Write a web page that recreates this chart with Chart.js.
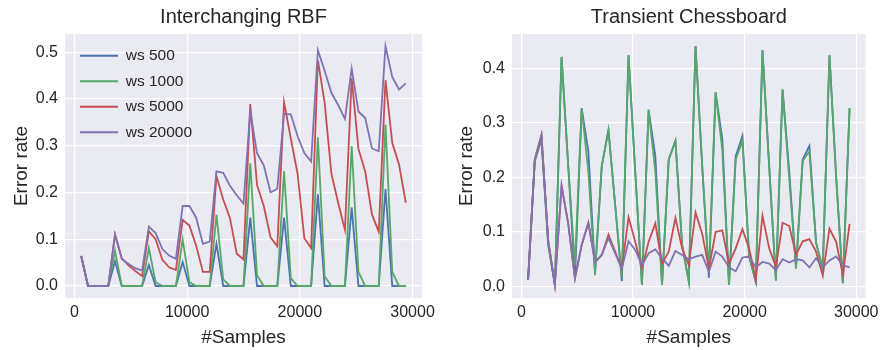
<!DOCTYPE html>
<html>
<head>
<meta charset="utf-8">
<script src="https://cdn.jsdelivr.net/npm/chart.js@4"></script>
<style>
  body { margin: 0; background: #fff; }
  .box { position: absolute; top: 0; width: 442px; height: 350px; }
</style>
</head>
<body>
<div class="box" style="left:0"><canvas id="rbf" width="442" height="350"></canvas></div>
<div class="box" style="left:442px"><canvas id="chess" width="442" height="350"></canvas></div>
<script>
// x positions (number of samples seen)
const samples = [600, 1200, 1800, 2400, 3000, 3600, 4200, 4800, 5400, 6000,
  6600, 7200, 7800, 8400, 9000, 9600, 10200, 10800, 11400, 12000,
  12600, 13200, 13800, 14400, 15000, 15600, 16200, 16800, 17400, 18000,
  18600, 19200, 19800, 20400, 21000, 21600, 22200, 22800, 23400, 24000,
  24600, 25200, 25800, 26400, 27000, 27600, 28200, 28800, 29400];

const seriesNames = ['ws 500', 'ws 1000', 'ws 5000', 'ws 20000'];
const colors = ['#4C72B0', '#55A868', '#C44E52', '#8172B2'];

// Interchanging RBF
const rbf500 = [0.064, 0, 0, 0, 0, 0.053, 0, 0, 0, 0,
  0.045, 0, 0, 0, 0, 0.051, 0, 0, 0, 0,
  0.090, 0, 0, 0, 0, 0.146, 0, 0, 0, 0,
  0.146, 0, 0, 0, 0, 0.196, 0, 0, 0, 0,
  0.168, 0, 0, 0, 0, 0.207, 0, 0, 0];
const rbf1000 = [0.064, 0, 0, 0, 0, 0.075, 0, 0, 0, 0,
  0.081, 0.008, 0, 0, 0, 0.099, 0.008, 0, 0, 0,
  0.152, 0.014, 0, 0, 0, 0.262, 0.023, 0, 0, 0,
  0.245, 0.017, 0, 0, 0, 0.318, 0.021, 0, 0, 0,
  0.299, 0.030, 0, 0, 0, 0.345, 0.030, 0, 0];
const rbf5000 = [0.064, 0, 0, 0, 0, 0.110, 0.059, 0.044, 0.032, 0.021,
  0.117, 0.100, 0.056, 0.040, 0.034, 0.141, 0.129, 0.086, 0.030, 0.030,
  0.235, 0.185, 0.145, 0.069, 0.057, 0.389, 0.216, 0.171, 0.104, 0.085,
  0.393, 0.315, 0.240, 0.102, 0.081, 0.483, 0.392, 0.240, 0.178, 0.120,
  0.444, 0.293, 0.245, 0.153, 0.116, 0.440, 0.306, 0.260, 0.178];
const rbf20000 = [0.064, 0, 0, 0, 0, 0.110, 0.058, 0.047, 0.038, 0.033,
  0.127, 0.113, 0.079, 0.065, 0.058, 0.171, 0.171, 0.146, 0.090, 0.095,
  0.245, 0.242, 0.214, 0.194, 0.176, 0.373, 0.284, 0.258, 0.200, 0.208,
  0.368, 0.367, 0.320, 0.284, 0.266, 0.504, 0.460, 0.413, 0.387, 0.357,
  0.465, 0.373, 0.359, 0.294, 0.288, 0.513, 0.447, 0.420, 0.433];

// Transient Chessboard
const chess500 = [0.012, 0.230, 0.270, 0.080, 0.003, 0.421, 0.220, 0.015, 0.327, 0.248,
  0.027, 0.221, 0.287, 0.150, 0.010, 0.424, 0.210, 0.003, 0.324, 0.239,
  0.003, 0.233, 0.267, 0.076, 0.009, 0.441, 0.220, 0.016, 0.356, 0.270,
  0.003, 0.239, 0.276, 0.055, 0.009, 0.433, 0.220, 0.011, 0.361, 0.210,
  0.033, 0.233, 0.258, 0.080, 0.033, 0.424, 0.200, 0.006, 0.327];
const chess1000 = [0.012, 0.230, 0.270, 0.076, 0.003, 0.421, 0.220, 0.039, 0.327, 0.210,
  0.021, 0.221, 0.287, 0.150, 0.018, 0.424, 0.210, 0.003, 0.324, 0.210,
  0.003, 0.233, 0.267, 0.076, 0.009, 0.441, 0.220, 0.027, 0.356, 0.250,
  0.003, 0.233, 0.267, 0.055, 0.009, 0.433, 0.220, 0.011, 0.361, 0.197,
  0.033, 0.230, 0.248, 0.080, 0.033, 0.424, 0.200, 0.006, 0.327];
const chess5000 = [0.012, 0.233, 0.278, 0.085, 0.003, 0.185, 0.115, 0.015, 0.076, 0.117,
  0.045, 0.058, 0.095, 0.064, 0.033, 0.127, 0.082, 0.033, 0.082, 0.116,
  0.042, 0.064, 0.126, 0.070, 0.039, 0.136, 0.097, 0.033, 0.100, 0.103,
  0.042, 0.070, 0.105, 0.070, 0.012, 0.130, 0.070, 0.036, 0.117, 0.111,
  0.058, 0.083, 0.087, 0.064, 0.020, 0.106, 0.082, 0.021, 0.115];
const chess20000 = [0.012, 0.233, 0.278, 0.085, 0.003, 0.185, 0.115, 0.015, 0.076, 0.117,
  0.045, 0.058, 0.089, 0.061, 0.033, 0.083, 0.067, 0.039, 0.061, 0.068,
  0.052, 0.038, 0.065, 0.058, 0.050, 0.055, 0.058, 0.027, 0.064, 0.055,
  0.035, 0.028, 0.053, 0.055, 0.035, 0.045, 0.042, 0.030, 0.050, 0.044,
  0.050, 0.048, 0.035, 0.052, 0.035, 0.048, 0.055, 0.039, 0.035];

const xTicks = [0, 10000, 20000, 30000];
const rbfYTicks = [0.0, 0.1, 0.2, 0.3, 0.4, 0.5];
const chessYTicks = [0.0, 0.1, 0.2, 0.3, 0.4];

Chart.defaults.font.family = '"Liberation Sans", Arial, sans-serif';
Chart.defaults.color = '#262626';

const plotBg = {
  id: 'plotBg',
  beforeDraw(chart) {
    const a = chart.chartArea;
    chart.ctx.save();
    chart.ctx.fillStyle = '#EAEAF2';
    chart.ctx.fillRect(a.left, a.top, a.right - a.left, a.bottom - a.top);
    chart.ctx.restore();
  }
};

// a vertical legend inside the chart area gets top = 0, so put it back in the plot corner
const legendNudge = {
  id: 'legendNudge',
  afterLayout(chart) {
    if (chart.legend && chart.options.plugins.legend.display) {
      chart.legend.left = chart.chartArea.left + 5;
      chart.legend.top = chart.chartArea.top + 4;
    }
  }
};

function makeChart(id, title, series, yMin, yMax, yTicks, yWidth, padRight, yTitlePad, showLegend) {
  const datasets = series.map((vals, i) => ({
    label: seriesNames[i],
    data: samples.map((x, j) => ({ x: x, y: vals[j] })),
    borderColor: colors[i],
    backgroundColor: colors[i],
    borderWidth: 1.8,
    pointBorderWidth: 1.8,
    pointRadius: 0,
    tension: 0,
    order: 3 - i
  }));

  return new Chart(document.getElementById(id), {
    type: 'line',
    data: { datasets: datasets },
    options: {
      responsive: false,
      animation: false,
      devicePixelRatio: 1,
      layout: { padding: { left: 0, right: padRight, top: 0, bottom: 0 } },
      scales: {
        x: {
          type: 'linear',
          min: -840,
          max: 30840,
          afterBuildTicks: s => { s.ticks = xTicks.map(v => ({ value: v })); },
          afterFit: s => { s.height = 52; },
          ticks: { padding: 5, font: { size: 16 }, callback: v => String(v) },
          grid: { color: '#ffffff', lineWidth: 1.2, drawTicks: false },
          border: { display: false },
          title: { display: true, text: '#Samples', font: { size: 19 }, padding: { top: 0, bottom: 1 } }
        },
        y: {
          min: yMin,
          max: yMax,
          afterBuildTicks: s => { s.ticks = yTicks.map(v => ({ value: v })); },
          afterFit: s => { s.width = yWidth; },
          ticks: { padding: 7, font: { size: 16 }, callback: v => v.toFixed(1) },
          grid: { color: '#ffffff', lineWidth: 1.2, drawTicks: false },
          border: { display: false },
          title: { display: true, text: 'Error rate', font: { size: 19 }, padding: { top: yTitlePad, bottom: 0 } }
        }
      },
      plugins: {
        title: {
          display: true,
          text: title,
          fullSize: false,
          font: { size: 20, weight: 'normal' },
          padding: { top: 5, bottom: 5 }
        },
        legend: {
          display: showLegend,
          position: 'chartArea',
          align: 'start',
          labels: {
            usePointStyle: true,
            pointStyle: 'line',
            pointStyleWidth: 38,
            padding: 10,
            font: { size: 15.5 },
            sort: (a, b) => a.datasetIndex - b.datasetIndex
          }
        },
        tooltip: { enabled: false }
      }
    },
    plugins: [plotBg, legendNudge]
  });
}

makeChart('rbf', 'Interchanging RBF', [rbf500, rbf1000, rbf5000, rbf20000],
  -0.0257, 0.5387, rbfYTicks, 65, 20, 10.5, true);
makeChart('chess', 'Transient Chessboard', [chess500, chess1000, chess5000, chess20000],
  -0.021, 0.463, chessYTicks, 70, 15, 13.5, false);
</script>
</body>
</html>
